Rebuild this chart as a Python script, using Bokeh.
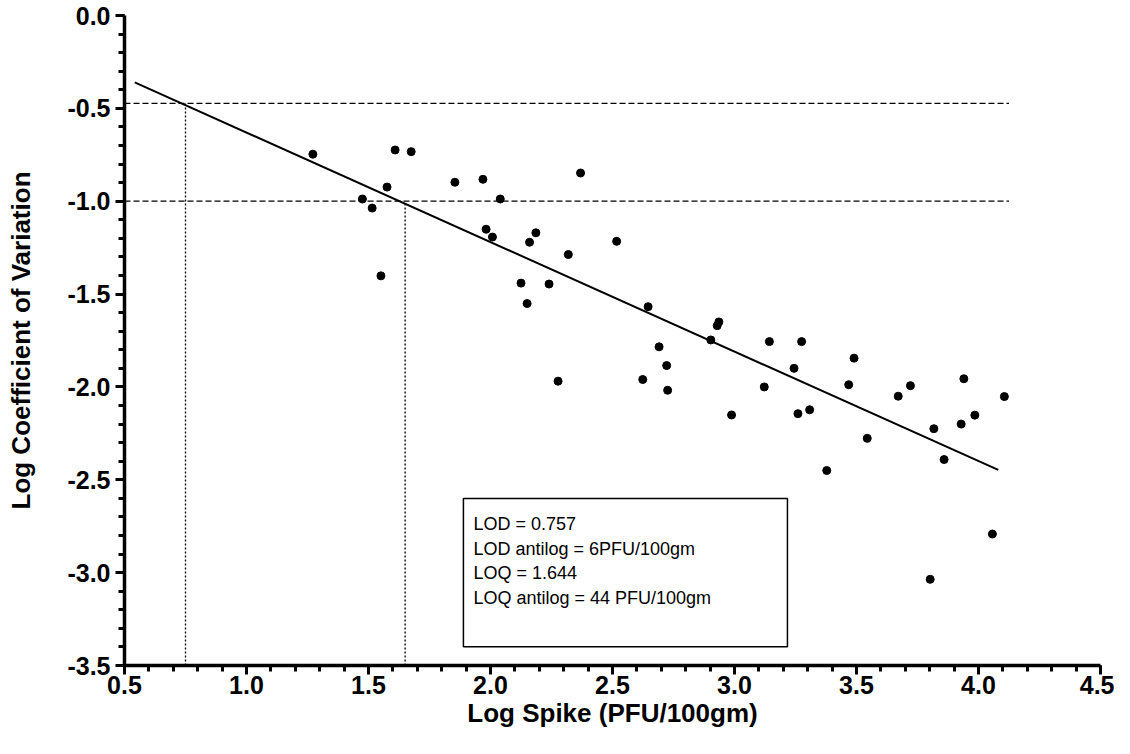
from bokeh.plotting import figure
from bokeh.models import Range1d, SingleIntervalTicker, NumeralTickFormatter, ColumnDataSource, BoxAnnotation
from bokeh.core.properties import value
from bokeh.embed import file_html
from bokeh.resources import INLINE

# ---- data ----
spike_x = [1.272, 1.609, 1.675, 1.576, 1.475, 1.515, 1.551, 1.854, 1.969, 2.040,
           1.982, 2.008, 2.186, 2.160, 2.319, 2.369, 2.517, 2.125, 2.240, 2.150,
           2.646, 2.691, 2.722, 2.726, 2.624, 2.277, 2.929, 2.936, 2.903, 2.988,
           3.143, 3.275, 3.244, 3.122, 3.260, 3.308, 3.378, 3.490, 3.468, 3.544,
           3.671, 3.721, 3.940, 3.817, 3.929, 3.985, 3.859, 4.106, 4.057, 3.802]
logcv_y = [-0.747, -0.724, -0.733, -0.924, -0.988, -1.037, -1.402, -0.898, -0.882, -0.988,
           -1.151, -1.193, -1.170, -1.221, -1.287, -0.848, -1.216, -1.441, -1.446, -1.551,
           -1.568, -1.784, -1.885, -2.018, -1.960, -1.969, -1.670, -1.650, -1.747, -2.151,
           -1.756, -1.756, -1.900, -2.000, -2.144, -2.123, -2.450, -1.845, -1.988, -2.277,
           -2.050, -1.993, -1.956, -2.225, -2.200, -2.152, -2.391, -2.052, -2.792, -3.036]

fit_x = [0.542, 4.081]
fit_y = [-0.360, -2.447]

hline_levels = [-0.473, -1.0]
hline_end = 4.125
vline_x = [0.75, 1.65]
vline_top = [-0.473, -1.0]

info_lines = ["LOD = 0.757",
              "LOD antilog = 6PFU/100gm",
              "LOQ = 1.644",
              "LOQ antilog = 44 PFU/100gm"]

x_label = "Log Spike (PFU/100gm)"
y_label = "Log Coefficient of Variation"

# ---- figure ----
FONT = "Liberation Sans"
p = figure(width=1114, height=738, x_range=Range1d(0.5, 4.5), y_range=Range1d(-3.5, 0.0),
           output_backend="svg", toolbar_location=None,
           x_axis_label=x_label, y_axis_label=y_label,
           min_border_left=124, min_border_right=14, min_border_top=15, min_border_bottom=73)
p.outline_line_color = None
p.xgrid.grid_line_color = None
p.ygrid.grid_line_color = None
p.background_fill_color = "white"
p.border_fill_color = "white"

for axs in (p.xaxis, p.yaxis):
    axs.ticker = SingleIntervalTicker(interval=0.5, num_minor_ticks=5)
    axs.formatter = NumeralTickFormatter(format="0.0")
    axs.axis_line_width = 3.5
    axs.axis_line_color = "black"
    axs.major_tick_line_width = 3
    axs.minor_tick_line_width = 3
    axs.major_tick_line_color = "black"
    axs.minor_tick_line_color = "black"
    axs.major_tick_in = 0
    axs.major_tick_out = 9
    axs.minor_tick_in = 0
    axs.minor_tick_out = 6
    axs.major_label_text_font = FONT
    axs.major_label_text_font_style = "bold"
    axs.major_label_text_font_size = "25px"
    axs.major_label_text_color = "black"
    axs.axis_label_text_font = FONT
    axs.axis_label_text_font_style = "bold"
    axs.axis_label_text_font_size = "26px"
    axs.axis_label_text_color = "black"

p.xaxis.major_label_standoff = 1
p.xaxis.axis_label_standoff = 1
p.yaxis.major_label_standoff = 5
p.yaxis.axis_label_standoff = 28

# reference lines
for yv in hline_levels:
    p.line([0.5, hline_end], [yv, yv], line_color="black", line_width=1.3, line_dash="6 3")
for xv, top in zip(vline_x, vline_top):
    p.line([xv, xv], [-3.5, top], line_color="black", line_width=1.3, line_dash="2 2")

# regression line
p.line(fit_x, fit_y, line_color="black", line_width=2)

# data points
src = ColumnDataSource(dict(x=spike_x, y=logcv_y))
p.scatter("x", "y", source=src, size=8, fill_color="black", line_color="black")

# info box
box_left, box_right, box_top, box_bottom = 1.889, 3.217, -2.601, -3.399
p.add_layout(BoxAnnotation(left=box_left, right=box_right, top=box_top, bottom=box_bottom,
                           fill_alpha=0, line_color="black", line_alpha=1.0, line_width=1.5))
line_step = 24.7 / 187.0
first_y = -2.739
tsrc = ColumnDataSource(dict(x=[1.930] * len(info_lines),
                             y=[first_y - i * line_step for i in range(len(info_lines))],
                             t=info_lines))
p.text("x", "y", text="t", source=tsrc, text_font=value(FONT),
       text_font_size="18px", text_baseline="middle", text_align="left", text_color="black")

open("out.html", "w").write(file_html(p, INLINE))
